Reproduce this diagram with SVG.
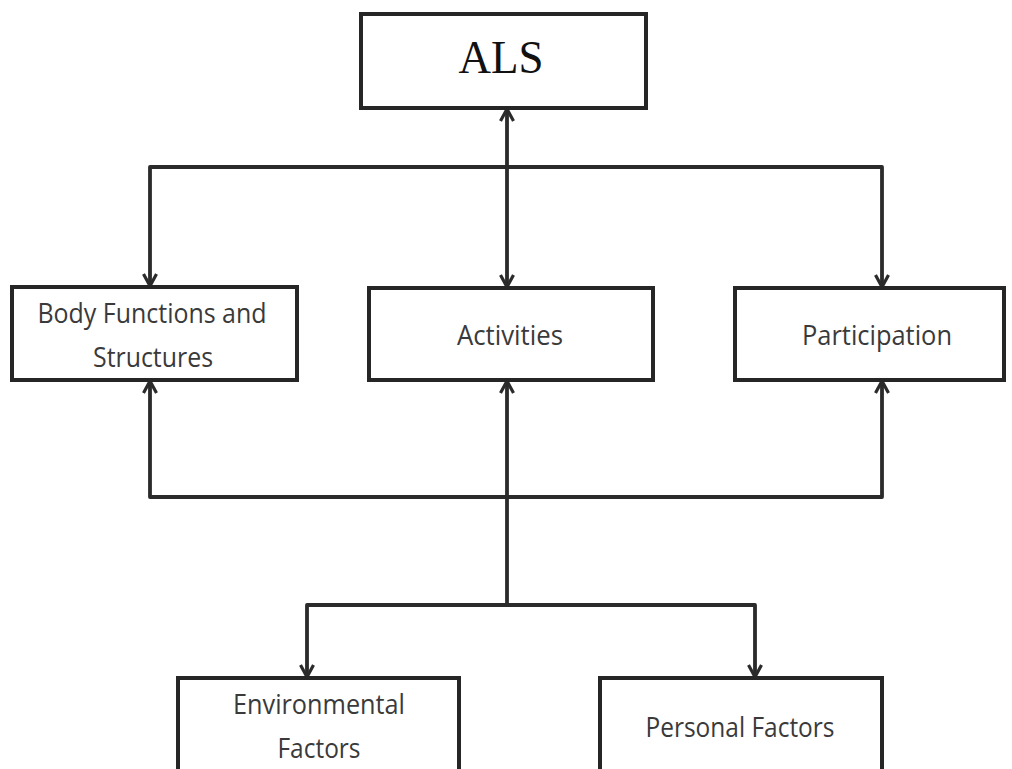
<svg xmlns="http://www.w3.org/2000/svg" width="1012" height="769" viewBox="0 0 1012 769">
  <style>
    .box { fill: #ffffff; stroke: #262626; stroke-width: 4; }
    .wire { fill: none; stroke: #2b2b2b; stroke-width: 3.8; stroke-linejoin: round; }
    .lbl { font-family: "Open Sans", "Noto Sans", "Liberation Sans", sans-serif; font-size: 27px; fill: #3a3a3a; text-anchor: middle; }
    .title { font-family: "Liberation Serif", "DejaVu Serif", serif; font-size: 46px; fill: #111111; text-anchor: middle; }
  </style>
  <defs>
    <marker id="arrow" viewBox="0 0 16 16" refX="14" refY="8" markerWidth="16" markerHeight="16" markerUnits="userSpaceOnUse" orient="auto-start-reverse">
      <path d="M2,1.5 L14,8 L2,14.5" fill="none" stroke="#2b2b2b" stroke-width="3.2" stroke-linejoin="miter"/>
    </marker>
  </defs>

  <g id="connectors">
    <!-- ALS to the three outcome boxes -->
    <path class="wire" d="M150,286 V167 H882 V287" marker-start="url(#arrow)" marker-end="url(#arrow)"/>
    <path class="wire" d="M507,109 V287" marker-start="url(#arrow)" marker-end="url(#arrow)"/>
    <!-- feedback bus under the outcome boxes -->
    <path class="wire" d="M150,381 V497 H882 V381" marker-start="url(#arrow)" marker-end="url(#arrow)"/>
    <path class="wire" d="M507,605 V381" marker-end="url(#arrow)"/>
    <!-- contextual factors -->
    <path class="wire" d="M307,677 V605 H755 V677" marker-start="url(#arrow)" marker-end="url(#arrow)"/>
  </g>

  <g id="node-als">
    <rect class="box" x="361" y="14" width="285" height="94"/>
    <text class="title" x="501" y="73" textLength="85" lengthAdjust="spacingAndGlyphs">ALS</text>
  </g>

  <g id="node-body">
    <rect class="box" x="12" y="287" width="285" height="93"/>
    <text class="lbl" x="152" y="323" textLength="229" lengthAdjust="spacingAndGlyphs">Body Functions and</text>
    <text class="lbl" x="153" y="367" textLength="120" lengthAdjust="spacingAndGlyphs">Structures</text>
  </g>

  <g id="node-activities">
    <rect class="box" x="369" y="288" width="284" height="92"/>
    <text class="lbl" x="510" y="345" textLength="106" lengthAdjust="spacingAndGlyphs">Activities</text>
  </g>

  <g id="node-participation">
    <rect class="box" x="735" y="288" width="269" height="92"/>
    <text class="lbl" x="877" y="345" textLength="150" lengthAdjust="spacingAndGlyphs">Participation</text>
  </g>

  <g id="node-environmental">
    <rect class="box" x="178" y="678" width="281" height="110"/>
    <text class="lbl" x="319" y="714" textLength="172" lengthAdjust="spacingAndGlyphs">Environmental</text>
    <text class="lbl" x="319" y="758" textLength="83" lengthAdjust="spacingAndGlyphs">Factors</text>
  </g>

  <g id="node-personal">
    <rect class="box" x="600" y="678" width="282" height="110"/>
    <text class="lbl" x="740" y="737" textLength="189" lengthAdjust="spacingAndGlyphs">Personal Factors</text>
  </g>
</svg>
